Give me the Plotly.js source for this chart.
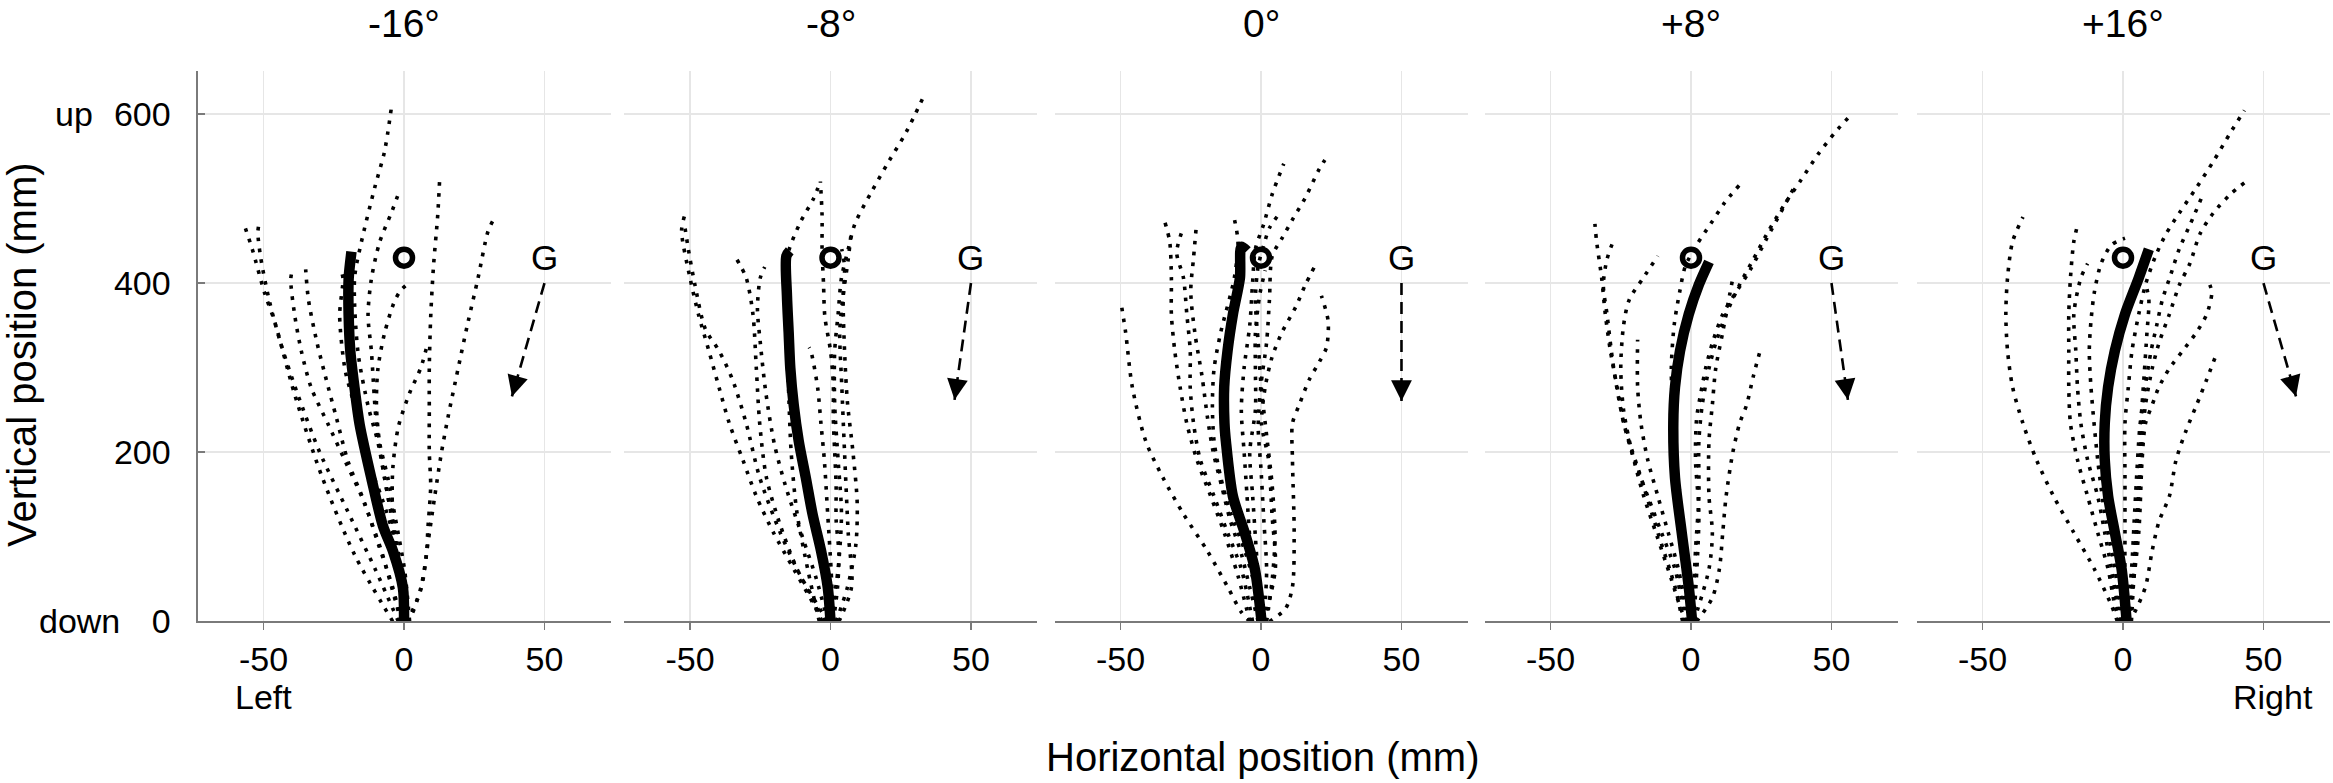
<!DOCTYPE html>
<html>
<head>
<meta charset="utf-8">
<script src="https://cdn.plot.ly/plotly-3.0.1.min.js"></script>
<style>
  html, body { margin: 0; padding: 0; background: #fff; }
  #myDiv { width: 2333px; height: 783px; }
</style>
</head>
<body>
<div id="myDiv"></div>
<script>
// panel labels and gravity tilt (deg) for each panel
var panelTitles = ['-16°', '-8°', '0°', '+8°', '+16°'];
var gravityTilt = [-16, -8, 0, 8, 16];

var xTickVals = [-50, 0, 50];
var xTickText = ['-50', '0', '50'];
var yTickVals = [0, 200, 400, 600];
var yTickText = ['0', '200', '400', '600'];

// target circle and G label
var targetX = [0];
var targetY = [430];
var gLabelX = 50;
var gLabelY = 430;
var gArrowTailY = 400;

// ---- panel 1 (-16 deg) ----
var mean1X = [0, -0.4, -3.9, -7.5, -11.6, -15.8, -17.6, -19.1, -19.7, -19.7, -18.7];
var mean1Y = [0, 40, 83, 113, 169, 233, 276, 319, 362, 405, 437];
var trials1X = [
  [-4, -17.6, -29.4, -38.9, -46, -49.6, -54, -56.9],
  [-2, -10, -20, -30, -38, -44, -48, -51, -52, -51.4],
  [-1, -3.3, -8, -15, -21, -27, -33, -36.5, -38.9, -40.3, -39.5],
  [-1, -4, -9, -14, -20, -24, -28, -31, -34, -35],
  [0, -1, -3.3, -8, -12.8, -17.6, -21, -22.9, -21.7, -22.3],
  [0, -2.1, -5.7, -9.3, -12.8, -16.4, -17.6, -15.2, -10.4, -6.9, -4.5],
  [1, -3.3, -6.9, -9.8, -11.6, -12.8, -11.6, -8.7, -4.5, -1.9],
  [2, 0.2, -3.3, -5.7, -8.7, -9.8, -9.3, -6.9, -3.3, -1, 1.4],
  [1, 3, 6, 8, 8.5, 9.5, 9, 9, 9, 9.5, 10.5, 12, 12.7],
  [0, -2, -4, -4, -2, 2, 6, 8.5],
  [1, 2.6, 6.2, 8.5, 10.9, 13.3, 15.7, 19.2, 22.8, 26.3, 29.9, 31.7]
];
var trials1Y = [
  [0, 79, 173, 268, 354, 388, 440, 469],
  [0, 60, 130, 200, 270, 330, 380, 430, 460, 474],
  [0, 27, 83, 147, 190, 233, 276, 319, 362, 405, 418],
  [0, 40, 90, 140, 190, 240, 290, 330, 380, 416],
  [0, 40, 96, 147, 190, 255, 298, 362, 405, 414],
  [0, 83, 147, 212, 255, 319, 405, 448, 513, 556, 607],
  [0, 104, 169, 233, 319, 362, 405, 448, 483, 506],
  [0, 61, 126, 169, 212, 255, 298, 341, 379, 392, 399],
  [0, 10, 40, 80, 110, 160, 200, 250, 300, 360, 420, 480, 523],
  [0, 60, 120, 180, 230, 270, 300, 330],
  [0, 10, 40, 92, 147, 199, 242, 298, 354, 405, 461, 474]
];

// ---- panel 2 (-8 deg) ----
var mean2X = [0, -1, -3.4, -6.4, -8.8, -11.3, -13.1, -14.3, -14.9, -15.5, -15.7, -14.5];
var mean2Y = [0, 41, 84, 127, 170, 213, 256, 299, 342, 385, 432, 438];
var trials2X = [
  [-3, -5.8, -13.1, -20.3, -26.4, -31.2, -36, -39.7, -43.3, -47, -50, -53, -51.8],
  [-1, -10.7, -17.9, -25.2, -30, -34.9, -39.7, -44.6, -48.2, -50.6, -52],
  [-2, -11.9, -17.9, -22.8, -25.2, -26.4, -27.6, -30, -33.7],
  [-1, -5, -10, -16, -20, -23, -25, -26, -25, -23.4],
  [-4, -8, -12, -14, -15, -16, -15.5, -11, -6, -3.6],
  [1, 2.5, 3, 2, 2, 1.5, 1, 1, 0, -2, -2.5, -3, -3, -3.6],
  [0, 2.7, 3.9, 2.7, 1.5, 1.5, 2.7, 3.9, 6.3, 8.7, 14.8, 20.8, 26.9, 33.5],
  [3, 7.5, 6.3, 5, 4, 3.3, 4.5, 6.3, 7.5],
  [1, 0.2, -1, -2.2, -3.4, -4.6, -7, -7.6],
  [2, 6, 9, 9.5, 8, 6, 5, 4.5, 5, 4]
];
var trials2Y = [
  [0, 19, 62, 105, 148, 191, 234, 277, 320, 363, 406, 462, 481],
  [0, 54, 105, 170, 234, 286, 320, 346, 397, 440, 470],
  [0, 62, 114, 170, 234, 299, 363, 406, 430],
  [0, 50, 100, 160, 210, 270, 330, 370, 406, 419],
  [0, 60, 130, 200, 280, 360, 430, 470, 500, 520],
  [0, 40, 80, 120, 160, 200, 240, 280, 320, 360, 400, 440, 480, 520],
  [0, 62, 127, 191, 256, 320, 363, 406, 440, 470, 509, 544, 578, 623],
  [0, 41, 105, 200, 280, 342, 385, 428, 464],
  [0, 62, 127, 191, 234, 277, 320, 324],
  [0, 40, 90, 140, 200, 260, 320, 380, 420, 440]
];

// ---- panel 3 (0 deg) ----
var mean3X = [0.2, -2.2, -5.8, -10, -12.5, -13, -13.1, -11.9, -10, -7.5, -7, -5];
var mean3Y = [0, 62, 105, 148, 213, 234, 277, 320, 363, 406, 443, 438];
var trials3X = [
  [-4, -7, -11.9, -19.2, -27.6, -34.9, -41, -45.8, -48.2, -49.7],
  [-4, -8.2, -13.1, -17.9, -22.8, -26.4, -28.8, -30.7, -31.9, -31.9, -32.5, -34.3],
  [-3, -7, -11.9, -16.7, -21.6, -24, -25.2, -25.2, -26.4, -27.6, -30, -27.6],
  [-1, -4, -7, -11, -14, -17, -19, -21, -23.5, -25, -24, -23],
  [-1, -2.2, -5.8, -10.7, -14.3, -16.7, -17.3, -16.7, -14.3, -9.5, -8.2, -9.7],
  [-1, -2, -4, -5, -6, -7, -6, -4, -3, -2, 1, 4, 8.1],
  [1, 2, 1, 0, -1, 0, 2, 3, 4, 7.5, 11.2, 15.8, 20.8, 24.2],
  [0, -1, -2, -3, -4, -2, -2, -2, -0.5, 1.5],
  [1, 5.1, 3.9, 2.7, 0.2, 1.5, 3.9, 7.5, 12.4, 15.8, 19],
  [3, 8.7, 11.2, 11.8, 11.2, 11.2, 13.6, 17.2, 20.8, 23.3, 23.9, 21.5],
  [2, 4, 5, 4, 2, 0, -1, -2, -1, 1, 3, 6.3]
];
var trials3Y = [
  [0, 11, 41, 84, 127, 170, 213, 277, 342, 374],
  [0, 54, 105, 148, 191, 234, 277, 320, 363, 406, 449, 473],
  [0, 62, 105, 148, 191, 234, 277, 320, 363, 406, 436, 466],
  [0, 40, 80, 120, 160, 200, 240, 290, 340, 390, 430, 468],
  [0, 41, 84, 127, 170, 213, 256, 299, 342, 406, 449, 479],
  [0, 50, 100, 150, 200, 250, 300, 350, 400, 440, 470, 505, 541],
  [0, 60, 120, 180, 230, 280, 330, 380, 432, 453, 475, 501, 535, 553],
  [0, 50, 100, 150, 200, 250, 300, 340, 385, 415],
  [0, 62, 127, 191, 234, 277, 312, 342, 372, 398, 419],
  [0, 15, 41, 105, 191, 234, 256, 286, 307, 324, 355, 385],
  [0, 50, 100, 160, 220, 280, 330, 380, 420, 445, 465, 481]
];

// ---- panel 4 (+8 deg) ----
var mean4X = [0.4, -0.8, -3.3, -5.7, -6.3, -5.7, -3.9, -0.8, 2.8, 6.4];
var mean4Y = [0, 41, 105, 170, 234, 277, 320, 363, 398, 425];
var trials4X = [
  [-2, -5.7, -10.5, -15.4, -20.2, -23.9, -26.3, -28.7, -30.5, -31.8, -33.6, -34.2],
  [-3, -5.7, -11.8, -17.8, -23.9, -27.5, -29.9, -31.2, -29.9, -27.5],
  [-1, -3, -7, -12, -17, -21, -24, -25, -24, -22, -17, -11.8],
  [-1, -4.5, -8.1, -11.8, -15.4, -17.8, -19, -19],
  [0.5, 1.6, 2.8, 2.8, 4, 6.4, 8.8, 12.5, 17.3, 22.2, 27, 33.1, 39.2, 45.2, 51.3, 57.3],
  [-0.5, -1.5, -3, -4, -5.5, -6.5, -7, -6, -4, -2, 2, 7, 12, 17.3],
  [1, 2.8, 1.6, 2, 3.5, 5.2, 7.6, 11.3, 16, 21, 27, 31.9, 36.7],
  [2, 7.6, 10.1, 11.3, 12.5, 14.9, 17.3, 19.8, 22.2, 24.6],
  [1, 6.4, 7.6, 6.4, 6.4, 7.6, 8.8, 11.3, 13.7, 14.9]
];
var trials4Y = [
  [0, 62, 105, 148, 191, 234, 277, 320, 363, 406, 449, 470],
  [0, 41, 105, 170, 234, 299, 363, 398, 428, 451],
  [0, 10, 50, 100, 150, 200, 250, 300, 350, 380, 406, 432],
  [0, 62, 105, 148, 191, 234, 277, 333],
  [0, 84, 148, 213, 256, 299, 329, 363, 398, 428, 458, 492, 522, 552, 578, 600],
  [0, 50, 100, 150, 200, 250, 300, 350, 390, 420, 445, 470, 495, 516],
  [0, 127, 191, 240, 270, 299, 329, 363, 389, 415, 453, 483, 513],
  [0, 28, 62, 105, 148, 200, 234, 256, 290, 320],
  [0, 62, 105, 148, 213, 256, 299, 342, 385, 406]
];

// ---- panel 5 (+16 deg) ----
var mean5X = [1.3, -0.5, -2.9, -5.3, -6.5, -6.5, -5.3, -2.9, 0.7, 5.6, 9.2];
var mean5Y = [0, 62, 105, 148, 191, 234, 277, 320, 363, 406, 440];
var trials5X = [
  [-2, -4.1, -10.2, -17.5, -24.7, -30.8, -35.6, -39.3, -41.1, -41.7, -41.1, -39.3, -35.6],
  [-1, -2.9, -5.3, -9, -12.6, -16.2, -18.7, -19.3, -19.3, -19.3, -18.7, -17.5, -16.2],
  [-1, -4.1, -6.5, -9, -12.6, -15, -16.2, -16.8, -17.5, -15, -12.6],
  [0, -2.9, -6.5, -9, -11.4, -12, -11.4, -10.2, -7.8, -4.1, 0.7],
  [1.3, 0.7, 0.7, 0.7, 0.7, 1.9, 3.2, 5.6, 8, 11.6, 15.3, 20.1, 26.2, 32.2, 38.3, 43.2],
  [3, 4.4, 5.6, 6.8, 8, 10.4, 12.8, 16.5, 20.1, 23.8, 27.4, 32.2, 38.3, 43.8],
  [2, 5.6, 6.8, 8, 10.4, 12.8, 16.5, 21.3, 26.2, 29.8, 31.6, 30.4],
  [2, 4, 8, 10.4, 12.8, 16.5, 18.9, 22.5, 26.2, 29.8, 32.8],
  [1, 3, 4, 5, 6, 8, 10, 12, 14, 17, 20, 24, 28],
  [2, 4, 5, 6, 6.5, 7.5, 8.5, 9.2, 8]
];
var trials5Y = [
  [0, 19, 62, 105, 148, 191, 234, 277, 320, 363, 406, 449, 478],
  [0, 19, 62, 105, 148, 191, 234, 277, 320, 363, 406, 449, 468],
  [0, 62, 105, 148, 191, 234, 277, 320, 363, 406, 423],
  [0, 62, 127, 191, 277, 320, 355, 389, 423, 445, 453],
  [0, 41, 105, 170, 234, 277, 320, 363, 398, 432, 458, 483, 513, 544, 578, 604],
  [0, 84, 148, 213, 256, 299, 329, 363, 398, 423, 458, 483, 505, 520],
  [0, 105, 191, 234, 256, 277, 299, 320, 342, 363, 389, 402],
  [0, 10, 41, 84, 118, 148, 191, 226, 256, 286, 312],
  [0, 60, 120, 180, 230, 280, 320, 350, 380, 410, 440, 470, 501],
  [0, 60, 120, 180, 240, 290, 340, 380, 400]
];

var meansX = [mean1X, mean2X, mean3X, mean4X, mean5X];
var meansY = [mean1Y, mean2Y, mean3Y, mean4Y, mean5Y];
var trialsX = [trials1X, trials2X, trials3X, trials4X, trials5X];
var trialsY = [trials1Y, trials2Y, trials3Y, trials4Y, trials5Y];

// ---- layout geometry ----
var W = 2333, H = 783;
var panelLeft = [197.5, 624, 1054.5, 1484.5, 1916.5];
var panelW = 413;
var xRange = [-73.5, 73.5];
var yRange = [0, 650];
var yDomain = [0.2063, 0.9087];
var FONT = 'Liberation Sans, Arial, Helvetica, sans-serif';
var axisGray = '#7a7a7a';
var gridGray = '#e6e6e6';

// pixels per data unit (for arrow drawn in screen direction)
var pxPerX = panelW / (xRange[1] - xRange[0]);
var pxPerY = (yDomain[1] - yDomain[0]) * H / (yRange[1] - yRange[0]);
var arrowLenPx = 118;

var data = [];
var annotations = [];
var layout = {
  width: W, height: H,
  margin: {l: 0, r: 0, t: 0, b: 0},
  paper_bgcolor: 'white', plot_bgcolor: 'white',
  showlegend: false, hovermode: false,
  font: {family: FONT, size: 34, color: 'black'},
  yaxis: {
    domain: yDomain, range: yRange, anchor: 'x',
    tickmode: 'array', tickvals: yTickVals, ticktext: yTickText,
    ticks: 'inside', ticklen: 7, tickwidth: 1.5, tickcolor: axisGray,
    ticklabelstandoff: 18,
    showline: true, linecolor: axisGray, linewidth: 2,
    showgrid: true, gridcolor: gridGray, gridwidth: 1.5,
    zeroline: false, fixedrange: true,
    tickfont: {family: FONT, size: 34, color: 'black'}
  }
};

for (var p = 0; p < 5; p++) {
  var xa = p === 0 ? 'x' : 'x' + (p + 1);
  var axKey = p === 0 ? 'xaxis' : 'xaxis' + (p + 1);
  var d0 = panelLeft[p] / W, d1 = (panelLeft[p] + panelW) / W;
  layout[axKey] = {
    domain: [d0, d1], range: xRange, anchor: 'y',
    tickmode: 'array', tickvals: xTickVals, ticktext: xTickText,
    ticks: 'outside', ticklen: 7, tickwidth: 1.5, tickcolor: axisGray,
    showline: true, linecolor: axisGray, linewidth: 2,
    showgrid: true, gridcolor: gridGray, gridwidth: 1.5,
    zeroline: false, fixedrange: true,
    tickfont: {family: FONT, size: 34, color: 'black'}
  };

  // individual trials (dotted)
  for (var t = 0; t < trialsX[p].length; t++) {
    data.push({
      x: trialsX[p][t], y: trialsY[p][t], xaxis: xa, yaxis: 'y',
      type: 'scatter', mode: 'lines',
      line: {color: 'black', width: 3.6, dash: '3.6px,7.4px', shape: 'spline', smoothing: 0.8}
    });
  }
  // mean trajectory
  data.push({
    x: meansX[p], y: meansY[p], xaxis: xa, yaxis: 'y',
    type: 'scatter', mode: 'lines',
    line: {color: 'black', width: 10.5, shape: 'spline', smoothing: 0.8}
  });
  // target circle
  data.push({
    x: targetX, y: targetY, xaxis: xa, yaxis: 'y',
    type: 'scatter', mode: 'markers',
    marker: {symbol: 'circle-open', size: 17, color: 'black', line: {width: 5.5, color: 'black'}}
  });

  // gravity arrow (dashed shaft + head)
  var th = gravityTilt[p] * Math.PI / 180;
  var tipX = gLabelX + arrowLenPx * Math.sin(th) / pxPerX;
  var tipY = gArrowTailY - arrowLenPx * Math.cos(th) / pxPerY;
  data.push({
    x: [gLabelX, tipX], y: [gArrowTailY, tipY], xaxis: xa, yaxis: 'y',
    type: 'scatter', mode: 'lines',
    line: {color: 'black', width: 2.6, dash: '12px,7px'}
  });
  annotations.push({
    xref: xa, yref: 'y', x: tipX, y: tipY,
    ax: -14 * Math.sin(th), ay: -14 * Math.cos(th),
    showarrow: true, arrowhead: 2, arrowsize: 1.6, arrowwidth: 2.6, arrowcolor: 'black', text: ''
  });
  annotations.push({
    xref: xa, yref: 'y', x: gLabelX, y: gLabelY, text: 'G', showarrow: false,
    font: {family: FONT, size: 35, color: 'black'}, xanchor: 'center', yanchor: 'middle'
  });

  // panel title
  annotations.push({
    xref: 'paper', yref: 'paper', x: (d0 + d1) / 2, y: 1,
    text: panelTitles[p], showarrow: false, xanchor: 'center', yanchor: 'top',
    font: {family: FONT, size: 39, color: 'black'}
  });
}

annotations.push(
  {xref: 'paper', yref: 'paper', x: 22 / W, y: (H - 355) / H, text: 'Vertical position (mm)',
   textangle: -90, showarrow: false, xanchor: 'center', yanchor: 'middle',
   font: {family: FONT, size: 40, color: 'black'}},
  {xref: 'paper', yref: 'paper', x: 1262 / W, y: (H - 757) / H, text: 'Horizontal position (mm)',
   showarrow: false, xanchor: 'center', yanchor: 'middle',
   font: {family: FONT, size: 40, color: 'black'}},
  {xref: 'paper', yref: 'y', x: 74 / W, y: 600, text: 'up', showarrow: false,
   xanchor: 'center', yanchor: 'middle', font: {family: FONT, size: 34, color: 'black'}},
  {xref: 'paper', yref: 'y', x: 79 / W, y: 0, text: 'down', showarrow: false,
   xanchor: 'center', yanchor: 'middle', font: {family: FONT, size: 34, color: 'black'}},
  {xref: 'x', yref: 'paper', x: -50, y: (H - 697) / H, text: 'Left', showarrow: false,
   xanchor: 'center', yanchor: 'middle', font: {family: FONT, size: 34, color: 'black'}},
  {xref: 'x5', yref: 'paper', x: 53.5, y: (H - 697) / H, text: 'Right', showarrow: false,
   xanchor: 'center', yanchor: 'middle', font: {family: FONT, size: 34, color: 'black'}}
);
layout.annotations = annotations;

Plotly.newPlot('myDiv', data, layout, {displayModeBar: false, staticPlot: true});
</script>
</body>
</html>
